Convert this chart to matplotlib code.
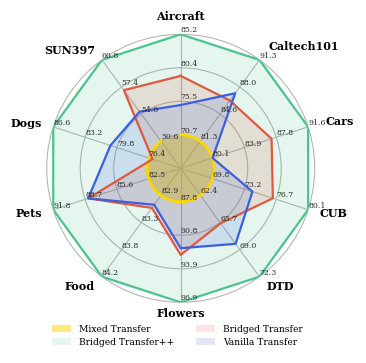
import numpy as np
import matplotlib
matplotlib.use("Agg")
import matplotlib.pyplot as plt
from matplotlib.patches import Patch

# datasets, clockwise from the top
categories = ["Aircraft", "Caltech101", "Cars", "CUB", "DTD",
              "Flowers", "Food", "Pets", "Dogs", "SUN397"]

mixed = [70.7, 81.3, 80.1, 69.8, 62.4, 87.8, 82.9, 82.5, 76.4, 50.6]
bridged_pp = [85.2, 91.3, 91.6, 80.1, 72.3, 96.9, 84.2, 91.8, 86.6, 60.8]
bridged = [79.2, 86.3, 87.2, 76.3, 65.8, 92.6, 83.1, 88.4, 76.0, 57.0]
vanilla = [75.0, 87.2, 80.1, 74.1, 68.3, 92.0, 83.05, 88.4, 80.5, 54.3]

plt.rcParams['font.family'] = ['DejaVu Serif']

lo = np.array(mixed)
hi = np.array(bridged_pp)
n = len(categories)
angles = np.linspace(0, 2 * np.pi, n, endpoint=False)


def to_r(vals):
    # each axis has its own scale: mixed -> inner ring, bridged++ -> outer ring
    return 0.25 + 0.75 * (np.array(vals) - lo) / (hi - lo)


fig = plt.figure(figsize=(3.66, 3.63), dpi=100)
ax = fig.add_axes([0.1276, 0.1672, 0.7322, 0.7383], projection='polar')
ax.set_theta_zero_location('N')
ax.set_theta_direction(-1)
ax.set_ylim(0, 1)

# name, values, colour, fill alpha, arcs between points?
series = [
    ("Mixed Transfer", mixed, "#ffd700", 0.5, True),
    ("Bridged Transfer++", bridged_pp, "#4cc38a", 0.15, False),
    ("Bridged Transfer", bridged, "#e0583f", 0.15, False),
    ("Vanilla Transfer", vanilla, "#3a5fe0", 0.15, False),
]
handles = {}
for z, (name, vals, col, a, arcs) in enumerate(series):
    r = to_r(vals)
    th = np.append(angles, angles[0])
    rr = np.append(r, r[0])
    poly = ax.fill(th, rr, color=col, alpha=a, lw=0, zorder=2 + 0.1 * z)[0]
    line = ax.plot(th, rr, color=col, lw=1.6, zorder=3)[0]
    if arcs:
        # let the polar transform bend the segments into arcs
        poly.get_path()._interpolation_steps = 40
        line.get_path()._interpolation_steps = 40
    handles[name] = Patch(facecolor=col, alpha=a, edgecolor='none')

# grid
ax.set_xticks(angles)
ax.set_xticklabels([])
ax.set_yticks([0.25, 0.5, 0.75])
ax.set_yticklabels([])
ax.grid(True, color='#b5b5b5', lw=0.8)
ax.spines['polar'].set_color('#b5b5b5')
ax.spines['polar'].set_linewidth(0.8)

# per-axis value labels
for i in range(n):
    ticks = np.linspace(lo[i], hi[i], 4)
    for k, t in enumerate(ticks):
        ax.text(angles[i], 0.25 * (k + 1), f"{t:.1f}", fontsize=5.6,
                color='#2a2a2a', ha='left', va='bottom', zorder=5)

# category labels
label_r = {"Aircraft": 1.135, "Caltech101": 1.12, "Cars": 1.14,
           "Flowers": 1.085}
for i, name in enumerate(categories):
    s = np.sin(angles[i])
    if s > 0.1:
        ha = 'left'
    elif s < -0.1:
        ha = 'right'
    else:
        ha = 'center'
    ax.text(angles[i], label_r.get(name, 1.09), name, fontsize=8,
            fontweight='bold', ha=ha, va='center')

order = ["Mixed Transfer", "Bridged Transfer++", "Bridged Transfer", "Vanilla Transfer"]
fig.legend([handles[k] for k in order], order, loc='center',
           bbox_to_anchor=(0.484, 0.075), ncol=2, frameon=False,
           fontsize=6.6, handlelength=2.1, handleheight=0.78,
           handletextpad=0.85, columnspacing=2.4, labelspacing=0.4)

fig.savefig("out.png", dpi=100)
